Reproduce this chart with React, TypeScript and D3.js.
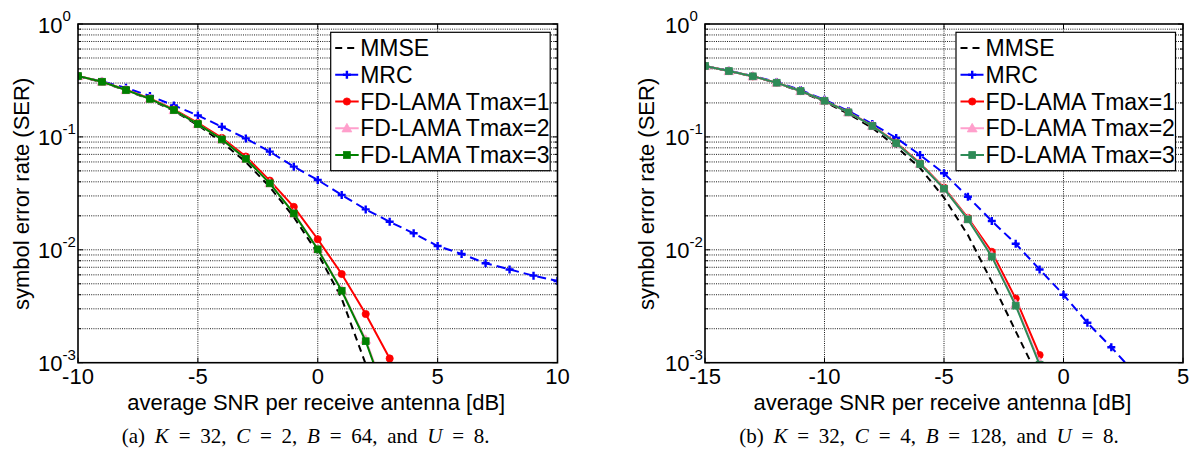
import React from 'react';
import * as d3 from 'd3';

// ---------- data ----------
const snrA = [-10, -9, -8, -7, -6, -5, -4, -3, -2, -1, 0, 1, 2, 3, 4, 5, 6, 7, 8, 9, 10];
const mmseA = [0.345, 0.305, 0.258, 0.215, 0.17, 0.127, 0.09, 0.06, 0.036, 0.0195, 0.0093, 0.0037, 0.00097, 0.0003, null, null, null, null, null, null, null];
const mrcA = [0.345, 0.31, 0.272, 0.23, 0.19, 0.155, 0.123, 0.097, 0.074, 0.0545, 0.0415, 0.0306, 0.0228, 0.0177, 0.014, 0.0108, 0.0092, 0.0076, 0.0067, 0.0059, 0.0053];
const t1A = [0.346, 0.308, 0.262, 0.219, 0.175, 0.133, 0.098, 0.067, 0.041, 0.024, 0.0124, 0.0061, 0.0027, 0.00109, null, null, null, null, null, null, null];
const t2A = [0.346, 0.308, 0.26, 0.217, 0.173, 0.13, 0.095, 0.064, 0.0389, 0.0211, 0.0102, 0.0044, 0.0016, 0.00042, null, null, null, null, null, null, null];
const t3A = [0.346, 0.308, 0.26, 0.217, 0.173, 0.13, 0.095, 0.064, 0.0388, 0.021, 0.0101, 0.00434, 0.00155, 0.0004, null, null, null, null, null, null, null];

const snrB = [-15, -14, -13, -12, -11, -10, -9, -8, -7, -6, -5, -4, -3, -2, -1, 0, 1, 2, 3, 4, 5];
const mmseB = [0.425, 0.383, 0.343, 0.3, 0.252, 0.205, 0.16, 0.12, 0.082, 0.053, 0.029, 0.0135, 0.0052, 0.0019, 0.0007, null, null, null, null, null, null];
const mrcB = [0.425, 0.385, 0.347, 0.306, 0.26, 0.213, 0.17, 0.13, 0.098, 0.069, 0.0476, 0.0295, 0.018, 0.0113, 0.0067, 0.004, 0.00226, 0.00137, 0.0008, 0.00045, 0.00025];
const t1B = [0.425, 0.383, 0.344, 0.302, 0.255, 0.209, 0.166, 0.126, 0.089, 0.0585, 0.0355, 0.0192, 0.0096, 0.0037, 0.00117, null, null, null, null, null, null];
const t2B = [0.425, 0.383, 0.344, 0.302, 0.255, 0.209, 0.165, 0.125, 0.088, 0.0576, 0.0349, 0.0188, 0.0089, 0.0033, 0.00101, 0.0002, null, null, null, null, null];
const t3B = [0.425, 0.383, 0.344, 0.302, 0.255, 0.209, 0.165, 0.125, 0.088, 0.0575, 0.0348, 0.0186, 0.0087, 0.0032, 0.00096, 0.0002, null, null, null, null, null];

const xTicksA = [-10, -5, 0, 5, 10];
const xTicksB = [-15, -10, -5, 0, 5];
const yTicks = [1e-3, 1e-2, 1e-1, 1];
const yTickExps = ['-3', '-2', '-1', '0'];
const legendNames = ['MMSE', 'MRC', 'FD-LAMA Tmax=1', 'FD-LAMA Tmax=2', 'FD-LAMA Tmax=3'];

const FONT = '"Liberation Sans", Arial, sans-serif';
const SERIF = '"Liberation Serif", "Times New Roman", serif';
const TOP = 24;
const BOTTOM = 362.7;

type Series = { name: string; values: (number | null)[]; color: string; dash?: string; marker: string };

function Marker({ kind, color, cx, cy }: { kind: string; color: string; cx: number; cy: number }) {
  if (kind === 'plus') {
    return <path d={`M${cx - 4},${cy}H${cx + 4}M${cx},${cy - 4}V${cy + 4}`} stroke={color} strokeWidth={2.4} fill="none" />;
  }
  if (kind === 'circle') return <circle cx={cx} cy={cy} r={3.6} fill={color} stroke={color} strokeWidth={0.8} />;
  if (kind === 'triangle') {
    const p = d3.symbol().type(d3.symbolTriangle).size(42)();
    return <path d={p || ''} transform={`translate(${cx},${cy + 0.8})`} fill={color} stroke={color} strokeWidth={0.8} />;
  }
  if (kind === 'square') return <rect x={cx - 3.4} y={cy - 3.4} width={6.8} height={6.8} fill={color} stroke={color} strokeWidth={0.8} />;
  return null;
}

function Panel(props: {
  id: string; left: number; right: number; snr: number[]; xTicks: number[]; series: Series[];
  legendX: number; yLabelX: number; caption: React.ReactNode; captionX: number;
}) {
  const { id, left, right, snr, xTicks, series, legendX, yLabelX, caption, captionX } = props;
  const x = d3.scaleLinear().domain([xTicks[0], xTicks[xTicks.length - 1]]).range([left, right]);
  const y = d3.scaleLog().domain([1e-3, 1]).range([BOTTOM, TOP]);
  const minorY: number[] = [];
  for (let e = -3; e < 0; e++) for (let m = 2; m < 10; m++) minorY.push(m * Math.pow(10, e));
  const line = d3.line<[number, number | null]>()
    .defined((d) => d[1] != null)
    .x((d) => x(d[0]))
    .y((d) => y(d[1] as number));
  const grid = { stroke: '#000', strokeWidth: 0.9, strokeDasharray: '1,1.2' };
  return (
    <g>
      <defs>
        <clipPath id={`clip-${id}`}>
          <rect x={left} y={TOP} width={right - left} height={BOTTOM - TOP} />
        </clipPath>
      </defs>
      {/* grid */}
      {xTicks.slice(1, -1).map((t) => (
        <line key={`gx${t}`} x1={x(t)} x2={x(t)} y1={TOP} y2={BOTTOM} {...grid} />
      ))}
      {[...minorY, ...yTicks.slice(1, -1)].map((v) => (
        <line key={`gy${v}`} x1={left} x2={right} y1={y(v)} y2={y(v)} {...grid} />
      ))}
      {/* ticks */}
      {xTicks.map((t) => (
        <g key={`tx${t}`}>
          <line x1={x(t)} x2={x(t)} y1={BOTTOM} y2={BOTTOM - 5} stroke="#000" strokeWidth={1} />
          <line x1={x(t)} x2={x(t)} y1={TOP} y2={TOP + 5} stroke="#000" strokeWidth={1} />
          <text x={x(t)} y={384} textAnchor="middle" fontFamily={FONT} fontSize={22}>{t}</text>
        </g>
      ))}
      {yTicks.map((v) => (
        <g key={`ty${v}`}>
          <line x1={left} x2={left + 5} y1={y(v)} y2={y(v)} stroke="#000" strokeWidth={1} />
          <line x1={right} x2={right - 5} y1={y(v)} y2={y(v)} stroke="#000" strokeWidth={1} />
        </g>
      ))}
      {minorY.map((v) => (
        <g key={`tm${v}`}>
          <line x1={left} x2={left + 3} y1={y(v)} y2={y(v)} stroke="#000" strokeWidth={1} />
          <line x1={right} x2={right - 3} y1={y(v)} y2={y(v)} stroke="#000" strokeWidth={1} />
        </g>
      ))}
      {yTicks.map((v, i) => (
        <text key={`yl${v}`} x={left - 40} y={y(v) + 8.5} fontFamily={FONT} fontSize={22}>
          10<tspan dy={-11.5} fontSize={15}>{yTickExps[i]}</tspan>
        </text>
      ))}
      {/* series */}
      <g clipPath={`url(#clip-${id})`}>
        {series.map((s) => {
          const pts: [number, number | null][] = snr.map((v, i) => [v, s.values[i]]);
          return (
            <g key={s.name}>
              <path d={line(pts) || ''} fill="none" stroke={s.color} strokeWidth={2} strokeDasharray={s.dash} />
              {s.marker !== 'none' && pts.filter((p) => p[1] != null).map((p, i) => (
                <Marker key={i} kind={s.marker} color={s.color} cx={x(p[0])} cy={y(p[1] as number)} />
              ))}
            </g>
          );
        })}
      </g>
      {/* frame */}
      <rect x={left} y={TOP} width={right - left} height={BOTTOM - TOP} fill="none" stroke="#000" strokeWidth={1.6} />
      {/* legend */}
      <g>
        <rect x={legendX} y={32.3} width={219.5} height={138.4} fill="#fff" stroke="#000" strokeWidth={1.2} />
        {series.map((s, i) => {
          const cy = 48 + i * 26.75;
          return (
            <g key={`lg${s.name}`}>
              <line x1={legendX + 4.5} x2={legendX + 28} y1={cy} y2={cy} stroke={s.color} strokeWidth={2} strokeDasharray={s.dash} />
              {s.marker !== 'none' && <Marker kind={s.marker} color={s.color} cx={legendX + 16.2} cy={cy} />}
              <text x={legendX + 29.5} y={cy + 8} fontFamily={FONT} fontSize={23}>{legendNames[i]}</text>
            </g>
          );
        })}
      </g>
      {/* axis labels */}
      <text x={(left + right) / 2 - 1.5} y={409.5} textAnchor="middle" fontFamily={FONT} fontSize={22}>
        average SNR per receive antenna [dB]
      </text>
      <text transform={`translate(${yLabelX},193.9) rotate(-90)`} textAnchor="middle" fontFamily={FONT} fontSize={22}>
        symbol error rate (SER)
      </text>
      <text x={captionX} y={443} textAnchor="middle" fontFamily={SERIF} fontSize={21} wordSpacing={4.5}>
        {caption}
      </text>
    </g>
  );
}

function seriesFor(mmse: (number | null)[], mrc: (number | null)[], t1: (number | null)[], t2: (number | null)[], t3: (number | null)[], green: string): Series[] {
  return [
    { name: 'mmse', values: mmse, color: '#000', dash: '7,5', marker: 'none' },
    { name: 'mrc', values: mrc, color: '#0000ff', dash: '9,5', marker: 'plus' },
    { name: 't1', values: t1, color: '#ff0000', marker: 'circle' },
    { name: 't2', values: t2, color: '#ff9fcc', marker: 'triangle' },
    { name: 't3', values: t3, color: green, marker: 'square' },
  ];
}

export default function App() {
  const it = { fontStyle: 'italic' as const };
  const capA = (
    <>
      (a) <tspan {...it}>K</tspan> = 32, <tspan {...it}>C</tspan> = 2, <tspan {...it}>B</tspan> = 64, and <tspan {...it}>U</tspan> = 8.
    </>
  );
  const capB = (
    <>
      (b) <tspan {...it}>K</tspan> = 32, <tspan {...it}>C</tspan> = 4, <tspan {...it}>B</tspan> = 128, and <tspan {...it}>U</tspan> = 8.
    </>
  );
  return (
    <div style={{ position: 'absolute', left: 0, top: 0 }}>
      <svg width={1194} height={449} style={{ display: 'block', background: '#fff' }}>
        <rect width={1194} height={449} fill="#fff" />
        <Panel id="a" left={78} right={557.5} snr={snrA} xTicks={xTicksA}
          series={seriesFor(mmseA, mrcA, t1A, t2A, t3A, '#008000')}
          legendX={330.7} yLabelX={29} caption={capA} captionX={305.7} />
        <Panel id="b" left={705} right={1183} snr={snrB} xTicks={xTicksB}
          series={seriesFor(mmseB, mrcB, t1B, t2B, t3B, '#2e8b57')}
          legendX={956} yLabelX={654} caption={capB} captionX={929} />
      </svg>
    </div>
  );
}
